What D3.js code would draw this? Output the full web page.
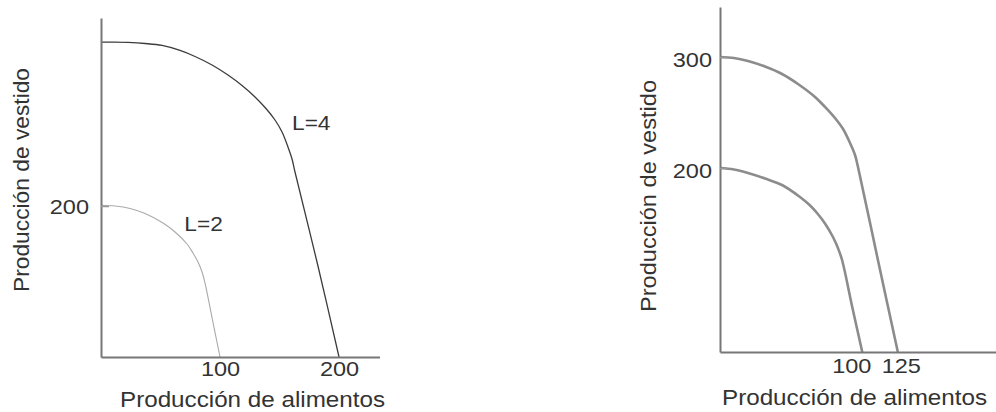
<!DOCTYPE html>
<html>
<head>
<meta charset="utf-8">
<script src="https://cdn.jsdelivr.net/npm/d3@7"></script>
<style>
  html, body { margin: 0; padding: 0; background: #fff; }
  svg { display: block; }
  text { font-family: "Liberation Sans", Arial, sans-serif; fill: #333; }
</style>
</head>
<body>
<svg id="chart" width="996" height="412"></svg>
<script>
// ---------- DATA ----------
// Left panel: production possibility frontiers for L=2 and L=4
const leftXTicks = [100, 200];
const leftYTicks = [200];
const leftL4 = [
  [0,417],[11.8,417],[22.7,416.6],[37,415.2],[51.3,412.6],[66.4,406],[79,398],
  [93.3,386.8],[106.7,373.5],[118.5,359.6],[129.4,344.4],[138.6,329.1],[146.2,313.9],
  [152.1,298],[157.1,278.1],[160.5,262.3],[163,245],[181.9,123.2],[200,0]
];
const leftL2 = [
  [0,201],[11.8,200],[24.4,196.7],[37,190.1],[52.1,177.5],[62.2,165.6],[72.3,149.7],
  [77.3,137.7],[81.5,125.8],[84.9,112.6],[87.4,98],[93.7,49],[100,0]
];
const leftLabels = ["L=4", "L=2"];
const leftLabelAt = [[160.5,300], [70,167]];

// Right panel: two frontiers
const rightXTicks = [100, 125];
const rightYTicks = [200, 300];
const rightOuter = [
  [0,300],[9.8,299.1],[19.7,296.4],[31.6,291.4],[43.6,284.7],[54.8,275.7],[66.8,264],
  [73.8,255],[80.8,245],[86.5,235.1],[91.4,222.5],[94.9,211.7],[97,200.9],[111,100],[125,0]
];
const rightInner = [
  [0,200],[9.8,198.4],[19.7,194.6],[31.6,188.6],[43.6,181.5],[56.2,168.5],[62.6,160.3],
  [68.2,151.1],[73.8,139.7],[79.4,125],[82.9,113],[85.8,100],[92.8,50],[100,0]
];

const xTitle = "Producción de alimentos";
const yTitle = "Producción de vestido";

// ---------- DRAW ----------
const svg = d3.select("#chart");
const STRETCH = 1.12;

function stretch(sel, factor) {
  sel.each(function() {
    const w = this.getComputedTextLength();
    d3.select(this).attr("textLength", w * factor).attr("lengthAdjust", "spacingAndGlyphs");
  });
}

function styleAxis(g) {
  g.select(".domain").attr("stroke", "#777").attr("stroke-width", 2);
  g.selectAll(".tick line").attr("stroke", "#999").attr("stroke-width", 1.5);
  g.selectAll(".tick text").attr("font-size", 21).attr("fill", "#333")
    .style("font-family", "'Liberation Sans', Arial, sans-serif");
}

const curve = d3.curveCatmullRom.alpha(0.5);

// ----- Left panel -----
const xL = d3.scaleLinear().domain([0, 234]).range([101, 379.5]);
const yL = d3.scaleLinear().domain([0, 449]).range([357, 18]);

const gL = svg.append("g");
const lineL = d3.line().x(d => xL(d[0])).y(d => yL(d[1])).curve(curve);

gL.append("path").datum(leftL2).attr("d", lineL)
  .attr("fill", "none").attr("stroke", "#aaa").attr("stroke-width", 1.1);
gL.append("path").datum(leftL4).attr("d", lineL)
  .attr("fill", "none").attr("stroke", "#3c3c3c").attr("stroke-width", 1.3);

const axXL = gL.append("g").attr("transform", `translate(0,${yL(0)})`)
  .call(d3.axisBottom(xL).tickValues(leftXTicks).tickSize(0).tickSizeOuter(0).tickPadding(4));
styleAxis(axXL);
const axYL = gL.append("g").attr("transform", `translate(${xL(0)},0)`)
  .call(d3.axisLeft(yL).tickValues(leftYTicks).tickSize(-8).tickSizeOuter(0).tickPadding(12));
styleAxis(axYL);
axYL.selectAll(".tick text").attr("dy", "0.38em");
stretch(axXL.selectAll(".tick text"), STRETCH);
stretch(axYL.selectAll(".tick text"), STRETCH);

gL.selectAll(".lab").data(leftLabels).enter().append("text")
  .attr("class", "lab")
  .attr("x", (d, i) => xL(leftLabelAt[i][0]))
  .attr("y", (d, i) => yL(leftLabelAt[i][1]))
  .attr("font-size", 21).text(d => d)
  .call(stretch, 1.08);

gL.append("text").attr("x", 120).attr("y", 407).attr("font-size", 21.5)
  .attr("textLength", 265).attr("lengthAdjust", "spacingAndGlyphs").text(xTitle);
gL.append("text").attr("transform", "translate(29,180) rotate(-90)")
  .attr("text-anchor", "middle").attr("font-size", 22)
  .attr("textLength", 224).attr("lengthAdjust", "spacingAndGlyphs").text(yTitle);

// ----- Right panel -----
const xR = d3.scaleLinear().domain([0, 194]).range([720, 996]);
const yR = d3.scaleLinear().domain([0, 200, 300, 345]).range([352, 168, 57, 7]);

const gR = svg.append("g");
const lineR = d3.line().x(d => xR(d[0])).y(d => yR(d[1])).curve(curve);

gR.append("path").datum(rightInner).attr("d", lineR)
  .attr("fill", "none").attr("stroke", "#8c8c8c").attr("stroke-width", 2.6);
gR.append("path").datum(rightOuter).attr("d", lineR)
  .attr("fill", "none").attr("stroke", "#8c8c8c").attr("stroke-width", 2.6);

const axXR = gR.append("g").attr("transform", `translate(0,${yR(0)})`)
  .call(d3.axisBottom(xR).tickValues(rightXTicks).tickSize(0).tickSizeOuter(0).tickPadding(6));
styleAxis(axXR);
axXR.selectAll(".tick text").attr("dx", d => d === 100 ? -11 : 3);
const axYR = gR.append("g").attr("transform", `translate(${xR(0)},0)`)
  .call(d3.axisLeft(yR).tickValues(rightYTicks).tickSize(-7).tickSizeOuter(0).tickPadding(8));
styleAxis(axYR);
axYR.selectAll(".tick text").attr("dy", "0.45em");
stretch(axXR.selectAll(".tick text"), STRETCH);
stretch(axYR.selectAll(".tick text"), STRETCH);

gR.append("text").attr("x", 722).attr("y", 405).attr("font-size", 21.5)
  .attr("textLength", 265).attr("lengthAdjust", "spacingAndGlyphs").text(xTitle);
gR.append("text").attr("transform", "translate(656,196) rotate(-90)")
  .attr("text-anchor", "middle").attr("font-size", 22)
  .attr("textLength", 232).attr("lengthAdjust", "spacingAndGlyphs").text(yTitle);
</script>
</body>
</html>
